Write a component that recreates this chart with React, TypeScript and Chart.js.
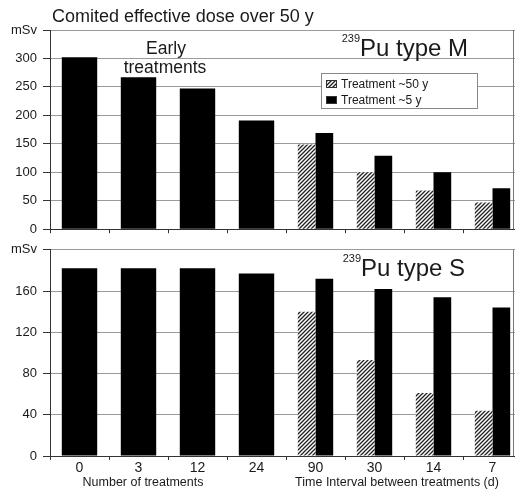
import React, { useEffect, useRef } from "react";
import { Chart, registerables } from "chart.js";

Chart.register(...registerables);

const categories = ["0", "3", "12", "24", "90", "30", "14", "7"];
const typeM_50y: (number | null)[] = [null, null, null, null, 149, 100, 68, 47];
const typeM_5y: number[] = [302, 267, 247, 191, 169, 129, 100, 72];
const typeS_50y: (number | null)[] = [null, null, null, null, 140, 93, 61, 44];
const typeS_5y: number[] = [182, 182, 182, 177, 172, 162, 154, 144];
const topTicks = { max: 350, step: 50 };
const bottomTicks = { max: 200, step: 40 };
const seriesLabels = ["Treatment ~50 y", "Treatment ~5 y"];

const FONT = "'Liberation Sans', Arial, sans-serif";
const TEXT = "#1a1a1a";
const GRID = "#9a9a9a";
const AXIS = "#333";

function makeHatch(): CanvasPattern | string {
  const c = document.createElement("canvas");
  c.width = 4;
  c.height = 4;
  const g = c.getContext("2d");
  if (!g) return "#888";
  g.fillStyle = "#fff";
  g.fillRect(0, 0, 4, 4);
  g.strokeStyle = "#222";
  g.lineWidth = 1.3;
  g.beginPath();
  g.moveTo(-1, 5);
  g.lineTo(5, -1);
  g.moveTo(-1, 1);
  g.lineTo(1, -1);
  g.moveTo(3, 5);
  g.lineTo(5, 3);
  g.stroke();
  const p = g.createPattern(c, "repeat");
  return p || "#888";
}

function drawIsotope(ctx: CanvasRenderingContext2D, x: number, y: number, text: string) {
  ctx.save();
  ctx.fillStyle = TEXT;
  ctx.textBaseline = "alphabetic";
  ctx.font = `11px ${FONT}`;
  ctx.textAlign = "right";
  ctx.fillText("239", x, y - 14);
  ctx.textAlign = "left";
  ctx.font = `24px ${FONT}`;
  ctx.fillText(text, x, y);
  ctx.restore();
}

function drawRightFrame(chart: any) {
  const ctx = chart.ctx as CanvasRenderingContext2D;
  const a = chart.chartArea;
  ctx.save();
  ctx.strokeStyle = "#777";
  ctx.lineWidth = 1;
  ctx.beginPath();
  ctx.moveTo(513.5, a.top);
  ctx.lineTo(513.5, a.bottom);
  ctx.stroke();
  ctx.restore();
}

function baseOptions(max: number, step: number, xHeight: number, padTop: number, showX: boolean): any {
  return {
    responsive: false,
    animation: false,
    devicePixelRatio: 1,
    layout: { padding: { top: padTop, left: 0, right: 0, bottom: 0 } },
    plugins: { legend: { display: false }, tooltip: { enabled: false }, title: { display: false } },
    datasets: { bar: { categoryPercentage: 0.6, barPercentage: 1.0, skipNull: true, borderWidth: 0 } },
    scales: {
      x: {
        type: "category",
        offset: true,
        grid: { display: true, offset: true, drawOnChartArea: false, drawTicks: true, tickLength: 4, color: AXIS },
        border: { display: true, color: AXIS, width: 1 },
        ticks: {
          display: showX,
          color: TEXT,
          padding: 0,
          font: { family: FONT, size: 14 },
          maxRotation: 0,
          autoSkip: false,
        },
        afterFit: (s: any) => {
          s.height = xHeight;
        },
      },
      y: {
        type: "linear",
        min: 0,
        max,
        grid: { color: GRID, lineWidth: 1, drawTicks: true, tickLength: 7, tickColor: AXIS },
        border: { display: true, color: AXIS, width: 1 },
        ticks: {
          stepSize: step,
          padding: 6,
          color: TEXT,
          font: { family: FONT, size: 13 },
          callback: (v: number) => (v === max ? "mSv" : String(v)),
        },
        afterFit: (s: any) => {
          s.width = 50;
        },
      },
    },
  };
}

export default function App() {
  const topRef = useRef<HTMLCanvasElement>(null);
  const botRef = useRef<HTMLCanvasElement>(null);

  useEffect(() => {
    const hatch = makeHatch();

    const topPlugin = {
      id: "topDecor",
      afterDraw(chart: any) {
        const ctx = chart.ctx as CanvasRenderingContext2D;
        drawRightFrame(chart);
        ctx.save();
        ctx.fillStyle = TEXT;
        ctx.textBaseline = "alphabetic";
        ctx.textAlign = "left";
        ctx.font = `18px ${FONT}`;
        ctx.fillText("Comited effective dose over 50 y", 52, 22);
        ctx.textAlign = "center";
        ctx.font = `17.5px ${FONT}`;
        ctx.fillText("Early", 166, 54);
        ctx.fillText("treatments", 165, 73);
        ctx.restore();
        drawIsotope(ctx, 360, 56, "Pu type M");
        // legend
        ctx.save();
        ctx.fillStyle = "#fff";
        ctx.fillRect(321, 73, 157, 35);
        ctx.strokeStyle = "#888";
        ctx.lineWidth = 1;
        ctx.strokeRect(321.5, 73.5, 156, 35);
        const ds = chart.data.datasets;
        const rows = [84, 100];
        ds.forEach((d: any, i: number) => {
          const cy = rows[i];
          ctx.fillStyle = d.backgroundColor;
          ctx.fillRect(326, cy - 4, 11, 8);
          ctx.strokeStyle = "#333";
          ctx.strokeRect(326.5, cy - 3.5, 10, 7);
          ctx.fillStyle = TEXT;
          ctx.font = `12px ${FONT}`;
          ctx.textAlign = "left";
          ctx.textBaseline = "middle";
          ctx.fillText(d.label, 341, cy + 0.5);
        });
        ctx.restore();
      },
    };

    const botPlugin = {
      id: "botDecor",
      afterDraw(chart: any) {
        const ctx = chart.ctx as CanvasRenderingContext2D;
        drawRightFrame(chart);
        drawIsotope(ctx, 361, 276 - 236, "Pu type S");
        ctx.save();
        ctx.fillStyle = TEXT;
        ctx.font = `12.5px ${FONT}`;
        ctx.textAlign = "center";
        ctx.textBaseline = "middle";
        ctx.fillText("Number of treatments", 143, 483 - 236);
        ctx.fillText("Time Interval between treatments (d)", 397, 483 - 236);
        ctx.restore();
      },
    };

    const top = new Chart(topRef.current as HTMLCanvasElement, {
      type: "bar",
      data: {
        labels: categories,
        datasets: [
          { label: seriesLabels[0], data: typeM_50y, backgroundColor: hatch as any },
          { label: seriesLabels[1], data: typeM_5y, backgroundColor: "#000" },
        ],
      },
      options: baseOptions(topTicks.max, topTicks.step, 7, 30, false),
      plugins: [topPlugin],
    });

    const bot = new Chart(botRef.current as HTMLCanvasElement, {
      type: "bar",
      data: {
        labels: categories,
        datasets: [
          { label: seriesLabels[0], data: typeS_50y, backgroundColor: hatch as any },
          { label: seriesLabels[1], data: typeS_5y, backgroundColor: "#000" },
        ],
      },
      options: baseOptions(bottomTicks.max, bottomTicks.step, 34, 13, true),
      plugins: [botPlugin],
    });

    return () => {
      top.destroy();
      bot.destroy();
    };
  }, []);

  return (
    <div
      style={{
        position: "fixed",
        left: 0,
        top: 0,
        width: 515,
        height: 490,
        overflow: "hidden",
        background: "#fff",
      }}
    >
      <canvas
        ref={topRef}
        width={522}
        height={243}
        style={{ position: "absolute", left: 0, top: 0, width: 522, height: 243 }}
      />
      <canvas
        ref={botRef}
        width={522}
        height={254}
        style={{ position: "absolute", left: 0, top: 236, width: 522, height: 254 }}
      />
    </div>
  );
}
